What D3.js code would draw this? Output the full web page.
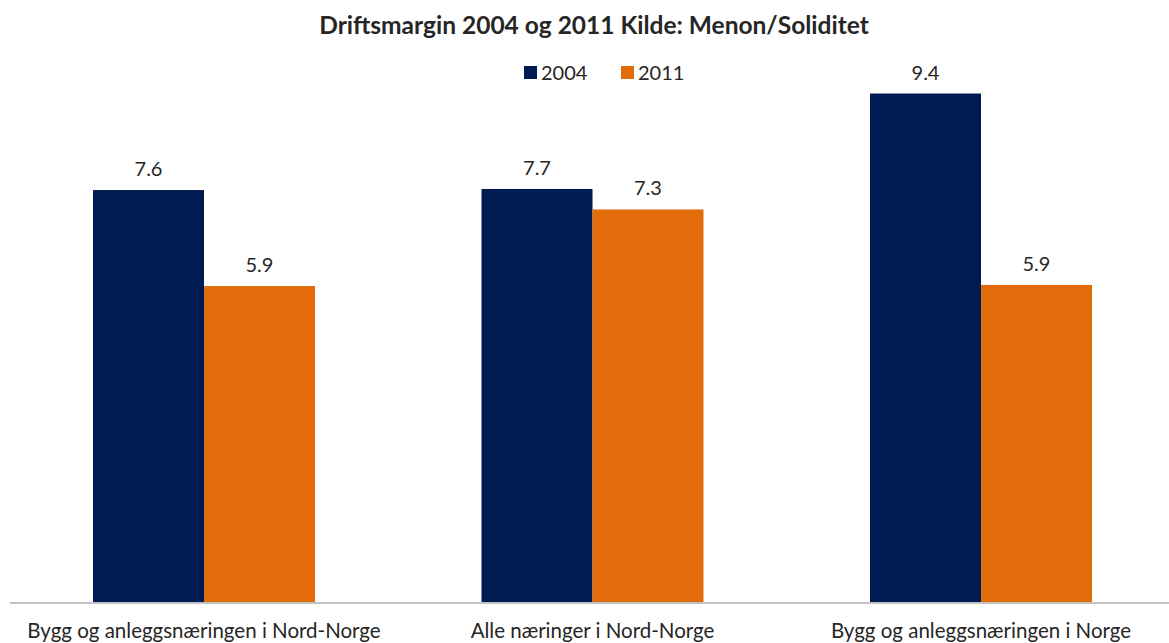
<!DOCTYPE html>
<html>
<head>
<meta charset="utf-8">
<script src="https://cdn.jsdelivr.net/npm/d3@7"></script>
<style>
  body { margin: 0; background: #fff; }
  svg { display: block; font-family: Lato, "Open Sans", sans-serif; }
</style>
</head>
<body>
<div id="chart"></div>
<script>
const categories = ["Bygg og anleggsnæringen i Nord-Norge", "Alle næringer i Nord-Norge", "Bygg og anleggsnæringen i Norge"];
const seriesNames = ["2004", "2011"];
const values2004 = [7.64, 7.66, 9.43];
const values2011 = [5.86, 7.28, 5.88];
const colors = ["#001b51", "#e36c0a"];

const w = 1169,
    h = 643,
    baseY = 602,
    topY = 62.8;

const fmt = d3.format(".1f");

let rows = categories.map(function (c, i) {
    return {cat: c, vals: [values2004[i], values2011[i]]};
});

let svg = d3.select("#chart")
    .append("svg")
    .attr("width", w)
    .attr("height", h);

let x = d3.scaleBand()
    .domain(categories)
    .range([9.75, 1175.25])
    .paddingInner(0.4286)
    .paddingOuter(0.2143);

let xs = d3.scaleBand()
    .domain(seriesNames)
    .range([0, x.bandwidth()]);

let y = d3.scaleLinear()
    .domain([0, 10])
    .range([baseY, topY]);

// title
svg.append("text")
    .attr("x", 594)
    .attr("y", 34)
    .attr("text-anchor", "middle")
    .style("font-weight", "bold")
    .style("font-size", "24.5px")
    .style("fill", "#262626")
    .text("Driftsmargin 2004 og 2011 Kilde: Menon/Soliditet");

// legend
let legend = svg.append("g").attr("class", "legend");
let legendX = [524, 621];
seriesNames.forEach(function (s, i) {
    legend.append("rect")
        .attr("x", legendX[i])
        .attr("y", 66)
        .attr("width", 13)
        .attr("height", 13)
        .style("fill", colors[i]);
    legend.append("text")
        .attr("x", legendX[i] + 17)
        .attr("y", 80)
        .style("font-size", "20px")
        .style("fill", "#262626")
        .text(s);
});

// bars
let groups = svg.append("g")
    .selectAll("g.group")
    .data(rows)
    .enter().append("g")
    .attr("class", "group")
    .attr("transform", function (d) {
        return "translate(" + x(d.cat) + ",0)";
    });

groups.selectAll("rect")
    .data(function (d) {
        return d.vals.map(function (v, i) { return {s: seriesNames[i], v: v, i: i}; });
    })
    .enter().append("rect")
    .attr("x", function (d) { return xs(d.s); })
    .attr("y", function (d) { return y(d.v); })
    .attr("width", xs.bandwidth())
    .attr("height", function (d) { return baseY - y(d.v); })
    .style("fill", function (d) { return colors[d.i]; });

groups.selectAll("text.val")
    .data(function (d) {
        return d.vals.map(function (v, i) { return {s: seriesNames[i], v: v}; });
    })
    .enter().append("text")
    .attr("class", "val")
    .attr("x", function (d) { return xs(d.s) + xs.bandwidth() / 2; })
    .attr("y", function (d) { return y(d.v) - 14; })
    .attr("text-anchor", "middle")
    .style("font-size", "20px")
    .style("fill", "#262626")
    .text(function (d) { return fmt(d.v); });

// x axis
svg.append("line")
    .attr("x1", 10)
    .attr("x2", w)
    .attr("y1", 603)
    .attr("y2", 603)
    .style("stroke", "#868686")
    .style("stroke-width", 1.2);

svg.append("g")
    .selectAll("text.cat")
    .data(categories)
    .enter().append("text")
    .attr("class", "cat")
    .attr("x", function (d) { return x(d) + x.bandwidth() / 2; })
    .attr("y", 638)
    .attr("text-anchor", "middle")
    .style("font-size", "20.5px")
    .style("fill", "#262626")
    .text(function (d) { return d; });
</script>
</body>
</html>
